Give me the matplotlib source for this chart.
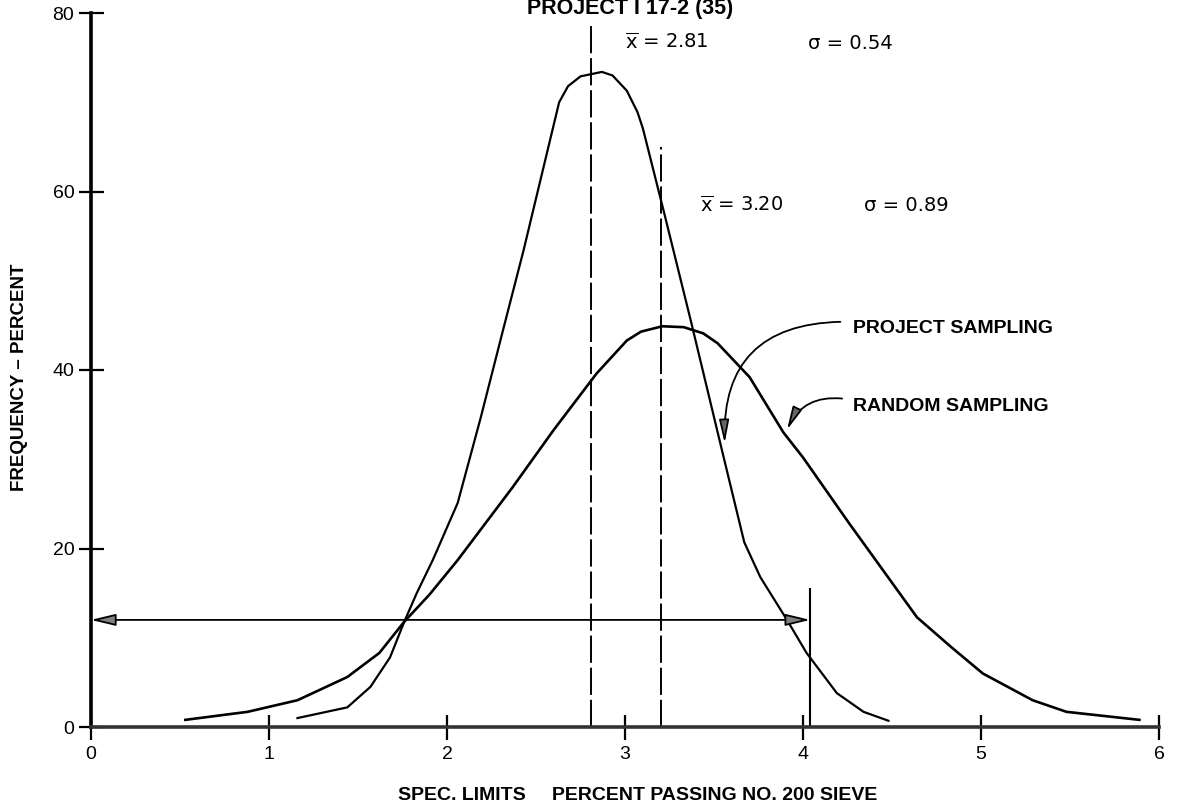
import matplotlib
matplotlib.use('Agg')
import matplotlib.pyplot as plt

plt.rcParams['font.family'] = ['Liberation Sans', 'DejaVu Sans']
plt.rcParams['mathtext.fontset'] = 'custom'
plt.rcParams['mathtext.rm'] = 'DejaVu Sans'

# curves (percent passing, frequency %)
project_x = [1.16, 1.44, 1.57, 1.68, 1.76, 1.83, 1.92, 2.06, 2.19, 2.31, 2.43,
             2.63, 2.68, 2.75, 2.87, 2.93, 3.01, 3.07, 3.10, 3.22, 3.37, 3.54,
             3.67, 3.76, 3.91, 4.02, 4.19, 4.34, 4.48]
project_y = [1.0, 2.2, 4.5, 7.8, 11.8, 15.0, 18.7, 25.1, 34.7, 44.1, 53.4,
             70.0, 71.8, 72.9, 73.4, 73.0, 71.3, 68.9, 67.1, 57.6, 45.5, 31.4,
             20.7, 16.8, 12.0, 8.3, 3.8, 1.7, 0.7]

random_x = [0.53, 0.88, 1.16, 1.44, 1.62, 1.76, 1.90, 2.06, 2.37, 2.60, 2.84, 3.01,
            3.09, 3.21, 3.33, 3.44, 3.52, 3.70, 3.89, 4.00, 4.26, 4.64, 4.83, 5.01,
            5.29, 5.48, 5.89]
random_y = [0.8, 1.7, 3.0, 5.6, 8.3, 11.8, 14.8, 18.7, 26.9, 33.3, 39.6, 43.3,
            44.3, 44.9, 44.8, 44.1, 43.0, 39.2, 33.0, 30.2, 22.8, 12.3, 9.0, 6.0,
            3.0, 1.7, 0.8]

means = [2.81, 3.20]
sigmas = [0.54, 0.89]
mean_line_tops = [78.5, 65.0]
spec_limit = 4.0
spec_line_top = 15.5
spec_arrow_y = 12.0

x_ticks = [0, 1, 2, 3, 4, 5, 6]
y_ticks = [0, 20, 40, 60, 80]

fig = plt.figure(figsize=(11.89, 8.09), dpi=100)
ax = fig.add_axes([91 / 1189, 82 / 809, 1068 / 1189, 714 / 809])
ax.set_xlim(0, 6)
ax.set_ylim(0, 80)

for s in ['top', 'right']:
    ax.spines[s].set_visible(False)
ax.spines['left'].set_linewidth(2.6)
ax.spines['bottom'].set_linewidth(2.6)
ax.spines['bottom'].set_color('0.2')

ax.set_xticks(x_ticks)
ax.set_yticks(y_ticks)
ax.tick_params(direction='inout', length=18, width=1.6, labelsize=14, color='k')
ax.tick_params(axis='x', pad=5)
ax.tick_params(axis='y', pad=3)

# distribution curves
ax.plot(project_x, project_y, color='k', lw=1.6, clip_on=False)
ax.plot(random_x, random_y, color='k', lw=1.9, clip_on=False)

# mean lines
for m, top in zip(means, mean_line_tops):
    ax.plot([m, m], [0, top], color='k', lw=1.4, dashes=(14, 2.5), clip_on=False)

# spec limit
ax.plot([spec_limit + 0.04, spec_limit + 0.04], [0, spec_line_top], color='k', lw=1.5)
ax.annotate('', xy=(0.0, spec_arrow_y), xytext=(spec_limit + 0.04, spec_arrow_y),
            arrowprops=dict(arrowstyle='<|-|>,head_length=1.5,head_width=0.36',
                            fc='0.5', ec='k', lw=1.3, shrinkA=0, shrinkB=0))

# statistics
stat = dict(fontsize=14, va='baseline', family='DejaVu Sans')
ax.text(3.0, 76.0, r'$\overline{\rm x}$ = %.2f' % means[0], **stat)
ax.text(4.03, 76.0, '\u03c3 = %.2f' % sigmas[0], **stat)
ax.text(3.42, 57.8, r'$\overline{\rm x}$ = %.2f' % means[1], **stat)
ax.text(4.34, 57.8, '\u03c3 = %.2f' % sigmas[1], **stat)

ax.text(3.03, 79.9, 'PROJECT I 17-2 (35)', fontsize=15.5, fontweight='bold',
        ha='center', va='baseline', clip_on=False)

# curve labels with curved pointers
ax.text(4.28, 44.1, 'PROJECT SAMPLING', fontsize=14, fontweight='bold', va='baseline')
ax.text(4.28, 35.4, 'RANDOM SAMPLING', fontsize=14, fontweight='bold', va='baseline')
ax.annotate('', xy=(3.56, 31.8), xytext=(4.21, 45.4),
            arrowprops=dict(arrowstyle='-|>,head_length=1.4,head_width=0.3',
                            connectionstyle='arc3,rad=0.5', fc='0.4', ec='k',
                            lw=1.3, shrinkA=0, shrinkB=0))
ax.annotate('', xy=(3.91, 33.3), xytext=(4.22, 36.8),
            arrowprops=dict(arrowstyle='-|>,head_length=1.4,head_width=0.3',
                            connectionstyle='arc3,rad=0.35', fc='0.4', ec='k',
                            lw=1.3, shrinkA=0, shrinkB=0))

# axis titles
fig.text(0.016, 0.534, 'FREQUENCY \u2013 PERCENT', rotation=90, fontsize=13.5,
         fontweight='bold', ha='center', va='center')
fig.text(398 / 1189, 0.011, 'SPEC. LIMITS', fontsize=14, fontweight='bold', va='baseline')
fig.text(552 / 1189, 0.011, 'PERCENT PASSING NO. 200 SIEVE', fontsize=14,
         fontweight='bold', va='baseline')

fig.savefig('out.png', dpi=100, facecolor='white')
